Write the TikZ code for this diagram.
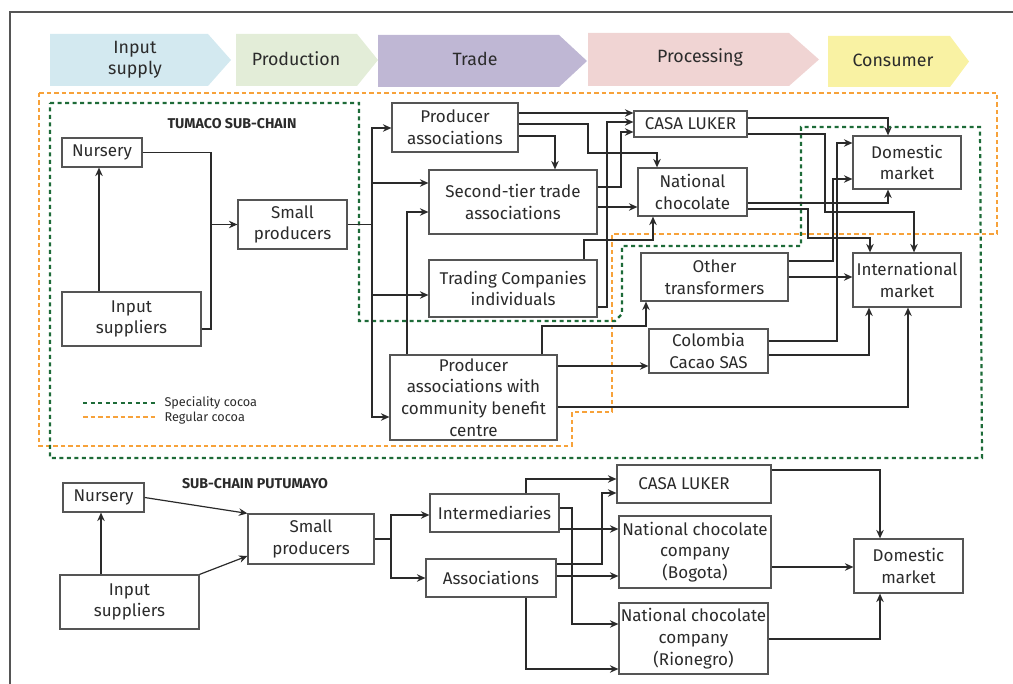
\documentclass[tikz,border=0pt]{standalone}
\usepackage{fontspec}
\setmainfont{Fira Sans}
\usetikzlibrary{arrows.meta}
\definecolor{txt}{HTML}{2B2B2B}
\definecolor{boxc}{HTML}{555555}
\definecolor{linec}{HTML}{2A2A2A}
\definecolor{spec}{HTML}{1D6B38}
\definecolor{regc}{HTML}{F7A23A}
\definecolor{hblue}{HTML}{D3E9F0}
\definecolor{hgreen}{HTML}{E3EDD8}
\definecolor{hpurple}{HTML}{BFB7D4}
\definecolor{hpink}{HTML}{F0D4D3}
\definecolor{hyellow}{HTML}{F9F2A3}
\newcommand\mybox[6]{\node[box,minimum width={#4pt-#2pt},minimum height={#5pt-#3pt}] (#1) at ({(#2+#4)/2},{(#3+#5)/2}) {#6};}
\begin{document}
\begin{tikzpicture}[x=1pt,y=-1pt,
  box/.style={draw=boxc,line width=1.2pt,fill=white,align=center,inner sep=0pt,text=txt,font=\fontsize{17}{21.7}\selectfont},
  conn/.style={draw=linec,line width=1.2pt,-{Stealth[length=8.5pt,width=7.5pt,inset=2.8pt]}},
  plain/.style={draw=linec,line width=1.2pt},
  head/.style={text=txt,align=center,font=\fontsize{17.8}{21}\selectfont},
  spline/.style={draw=spec,line width=2.2pt,dash pattern=on 4pt off 3.5pt},
  rgline/.style={draw=regc,line width=2.2pt,dash pattern=on 4.5pt off 3pt},
  title/.style={text=txt,font=\fontsize{14.2}{16}\selectfont\bfseries},
  legtext/.style={text=txt,anchor=west,font=\fontsize{12.7}{14}\selectfont}]
\path[use as bounding box] (0,0) rectangle (1013,684);
% frame
\draw[boxc,line width=1.5pt] (10,700) -- (10,12) -- (1030,12);
% header chevrons
\fill[hblue] (50,34) -- (208,34) -- (231,60) -- (208,86) -- (50,86) -- cycle;
\fill[hgreen] (236,34) -- (357,34) -- (378,60) -- (357,86) -- (236,86) -- cycle;
\fill[hpurple] (378,35) -- (559,35) -- (587,61) -- (559,87) -- (378,87) -- cycle;
\fill[hpink] (588,33) -- (789,33) -- (819,59.5) -- (789,86) -- (588,86) -- cycle;
\fill[hyellow] (828,36) -- (950,36) -- (969,61.5) -- (950,87) -- (828,87) -- cycle;
\node[head] (h1) at (135,60) {Input\\supply};
\node[head] (h2) at (296,59) {Production};
\node[head] (h3) at (475,59) {Trade};
\node[head] (h4) at (700,57.5) {Processing};
\node[head] (h5) at (893,60.5) {Consumer};
% regions
\draw[rgline] (39,93) -- (997,93) -- (997,234) -- (612,234) -- (612,412) -- (572,412) -- (572,446) -- (39,446) -- cycle;
\draw[spline] (50,103) -- (359,103) -- (359,321) -- (615,321) -- (622,314) -- (622,246) -- (801,246) -- (801,127) -- (980,127) -- (982,458) -- (50,458) -- cycle;
% legend
\draw[spline] (83,403) -- (155,403);
\draw[rgline] (83,417) -- (155,417);
\node[legtext] (l1) at (161,403) {Speciality cocoa};
\node[legtext] (l2) at (161,418) {Regular cocoa};
\node[title] (t1) at (232,124) {TUMACO SUB-CHAIN};
\node[title] (t2) at (255,484) {SUB-CHAIN PUTUMAYO};
% Tumaco boxes
\mybox{nurT}{62}{138}{142}{167}{Nursery}
\mybox{inpT}{62}{292}{201}{346}{Input\\suppliers}
\mybox{smT}{238}{200}{347}{249}{Small\\producers}
\mybox{pa}{392}{103}{518}{152}{Producer\\associations}
\mybox{sta}{429}{170}{597}{234}{Second-tier trade\\associations}
\mybox{tc}{429}{260}{597}{317}{Trading Companies\\individuals}
\mybox{pacbc}{390}{355}{557}{440}{Producer\\associations with\\community benefit\\centre}
\mybox{luk}{634}{111}{747}{137}{CASA LUKER}
\mybox{nc}{638}{168}{747}{216}{National\\chocolate}
\mybox{ot}{641}{253}{788}{301}{Other\\transformers}
\mybox{ccs}{649}{329}{768}{373}{Colombia\\Cacao SAS}
\mybox{dom}{853}{136}{961}{189}{Domestic\\market}
\mybox{intl}{853}{253}{961}{307}{International\\market}
% Putumayo boxes
\mybox{nurP}{63}{483}{144}{512}{Nursery}
\mybox{inpP}{60}{575}{199}{629}{Input\\suppliers}
\mybox{smP}{248}{514}{374}{564}{Small\\producers}
\mybox{inter}{430}{494}{559}{532}{Intermediaries}
\mybox{assoc}{426}{559}{556}{597}{Associations}
\mybox{lukP}{617}{465}{771}{503}{CASA LUKER\hspace*{20pt}}
\mybox{bog}{619}{516}{771}{588}{National chocolate\\company\\(Bogota)}
\mybox{rio}{619}{603}{768}{674}{National chocolate\\company\\(Rionegro)}
\mybox{domP}{854}{539}{963}{593}{Domestic\\market}
% Tumaco connectors
\coordinate (jT) at (211,224.5);
\draw[plain] (nurT.east) -| (jT);
\draw[plain] (inpT.east |- 0,329) -| (jT);
\draw[conn] (jT) -- (smT.west);
\draw[conn] (inpT.north -| 99,0) -- (nurT.south -| 99,0);
\coordinate (busT) at (372,224.5);
\draw[plain] (smT.east) -- (busT);
\draw[conn] (busT) |- (pa.west |- 0,128);
\draw[conn] (busT) |- (sta.west |- 0,183);
\draw[conn] (busT) |- (tc.west |- 0,295);
\draw[conn] (busT) |- (pacbc.west |- 0,417);
\draw[conn] (pa.east |- 0,113) -- (luk.west |- 0,113);
\draw[conn] (pa.east |- 0,124) -| (588,153) -| (nc.north -| 657,0);
\draw[conn] (pa.east |- 0,136) -| (sta.north -| 555,0);
\draw[conn] (sta.east |- 0,187) -| (621,132) -- (luk.west |- 0,132);
\draw[conn] (sta.east |- 0,207) -- (nc.west |- 0,207);
\draw[conn] (tc.east |- 0,307) -| (607,122) -- (luk.west |- 0,122);
\draw[conn] (tc.north -| 584,0) |- (653,240) -- (nc.south -| 653,0);
\draw[conn] (pacbc.north -| 407,0) |- (sta.west |- 0,212);
\draw[conn] (pacbc.north -| 542,0) |- (646,326) -- (ot.south -| 646,0);
\draw[conn] (pacbc.east |- 0,366) -- (ccs.west |- 0,366);
\draw[conn] (pacbc.east |- 0,407) -| (intl.south -| 908,0);
\draw[conn] (ccs.east |- 0,341) -| (837,143) -- (dom.west |- 0,143);
\draw[conn] (ccs.east |- 0,355) -| (intl.south -| 869,0);
\draw[conn] (ot.east |- 0,277) -- (intl.west |- 0,277);
\draw[conn] (ot.east |- 0,261) -| (833,179) -- (dom.west |- 0,179);
\draw[conn] (luk.east |- 0,118) -| (dom.north -| 888,0);
\draw[conn] (luk.east |- 0,134) -| (825,212) -| (intl.north -| 914,0);
\draw[conn] (nc.east |- 0,203) -| (dom.south -| 888,0);
\draw[conn] (nc.east |- 0,209) -| (808,238) -| (intl.north -| 870,0);
% Putumayo connectors
\draw[conn] (inpP.north -| 101,0) -- (nurP.south -| 101,0);
\draw[conn] (nurP.east) -- (smP.north west);
\draw[conn] (inpP.north east) -- (smP.west |- 0,556);
\coordinate (busP) at (391,539);
\draw[plain] (smP.east) -- (busP);
\draw[conn] (busP) |- (inter.west |- 0,515);
\draw[conn] (busP) |- (assoc.west |- 0,578);
\draw[conn] (inter.north -| 526,0) |- (lukP.west |- 0,479);
\draw[conn] (assoc.east |- 0,564) -| (602,493) -- (lukP.west |- 0,493);
\draw[conn] (inter.east |- 0,529) -- (bog.west |- 0,529);
\draw[conn] (inter.east |- 0,508) -| (572,624) -- (rio.west |- 0,624);
\draw[conn] (assoc.east |- 0,576) -- (bog.west |- 0,576);
\draw[conn] (assoc.south -| 526,0) |- (rio.west |- 0,669);
\draw[conn] (lukP.east |- 0,470) -| (domP.north -| 880,0);
\draw[conn] (bog.east |- 0,567) -- (domP.west |- 0,567);
\draw[conn] (rio.east |- 0,639) -| (domP.south -| 880,0);
\end{tikzpicture}
\end{document}
